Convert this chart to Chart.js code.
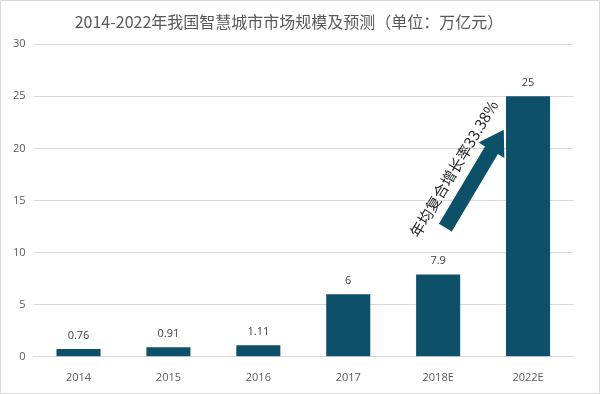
<!DOCTYPE html>
<html><head><meta charset="utf-8">
<script src="https://cdn.jsdelivr.net/npm/chart.js@4/dist/chart.umd.min.js"></script>
<style>
html,body{margin:0;padding:0;background:#fff;}
#wrap{position:relative;width:600px;height:394px;box-sizing:border-box;border:1px solid #d9d9d9;}
</style></head>
<body><div id="wrap"><canvas id="c" width="598" height="392"></canvas></div>
<script>
const categories = ['2014','2015','2016','2017','2018E','2022E'];
const values = [0.76, 0.91, 1.11, 6, 7.9, 25];
const yTicks = [0,5,10,15,20,25,30];
const titleText = '2014-2022年我国智慧城市市场规模及预测（单位：万亿元）';
const annotationText = '年均复合增长率33.38%';

const FONT = '"Open Sans","Noto Sans CJK SC",sans-serif';

const labelPlugin = {
  id:'labels',
  afterDatasetsDraw(chart){
    const ctx = chart.ctx;
    const meta = chart.getDatasetMeta(0);
    ctx.save();
    ctx.font = '11px ' + FONT;
    ctx.fillStyle = '#404040';
    ctx.textAlign = 'center';
    ctx.textBaseline = 'bottom';
    meta.data.forEach((b,i)=>{
      ctx.fillText(String(values[i]), b.x, b.y - 8);
    });
    // arrow
    const xs = chart.scales.x, ys = chart.scales.y;
    const x0 = xs.getPixelForValue(4.08), y0 = ys.getPixelForValue(12.4);
    const x1 = xs.getPixelForValue(4.73), y1 = ys.getPixelForValue(21.8);
    const ang = Math.atan2(y1-y0, x1-x0);
    const len = Math.hypot(x1-x0, y1-y0);
    ctx.translate(x0,y0);
    ctx.rotate(ang);
    const sw = 7.5, hw = 15, hl = 24;
    ctx.beginPath();
    ctx.moveTo(0,-sw); ctx.lineTo(len-hl,-sw); ctx.lineTo(len-hl,-hw);
    ctx.lineTo(len,0); ctx.lineTo(len-hl,hw); ctx.lineTo(len-hl,sw); ctx.lineTo(0,sw);
    ctx.closePath();
    ctx.fillStyle = '#0d506a';
    ctx.fill();
    ctx.restore();
    // text
    ctx.save();
    const tx = xs.getPixelForValue(3.73), ty = ys.getPixelForValue(11.6);
    ctx.translate(tx,ty);
    ctx.rotate(ang);
    ctx.font = '15px "Noto Sans CJK SC",sans-serif';
    ctx.fillStyle = '#262626';
    ctx.textAlign = 'left';
    ctx.textBaseline = 'middle';
    ctx.fillText(annotationText, 0, 0);
    ctx.restore();
  }
};

new Chart(document.getElementById('c'), {
  type:'bar',
  data:{labels:categories, datasets:[{data:values, backgroundColor:'#0d506a', barPercentage:0.98, categoryPercentage:0.5}]},
  options:{
    responsive:false, animation:false,
    layout:{padding:{left:4,right:26,top:4,bottom:3}},
    plugins:{
      legend:{display:false}, tooltip:{enabled:false},
      title:{display:true, text:titleText, color:'#595959', font:{family:'"Noto Sans CJK SC",sans-serif', size:16, weight:'normal'}, padding:{top:7,bottom:13}}
    },
    scales:{
      x:{grid:{display:false}, border:{color:'#d9d9d9'}, ticks:{color:'#595959', font:{family:FONT,size:11}, padding:6}},
      y:{min:0,max:30, afterBuildTicks(s){s.ticks = yTicks.map(v=>({value:v}));},
         grid:{color:'#d9d9d9', drawTicks:false}, border:{display:false},
         ticks:{color:'#595959', font:{family:FONT,size:11}, padding:8}}
    }
  },
  plugins:[labelPlugin]
});
</script></body></html>
